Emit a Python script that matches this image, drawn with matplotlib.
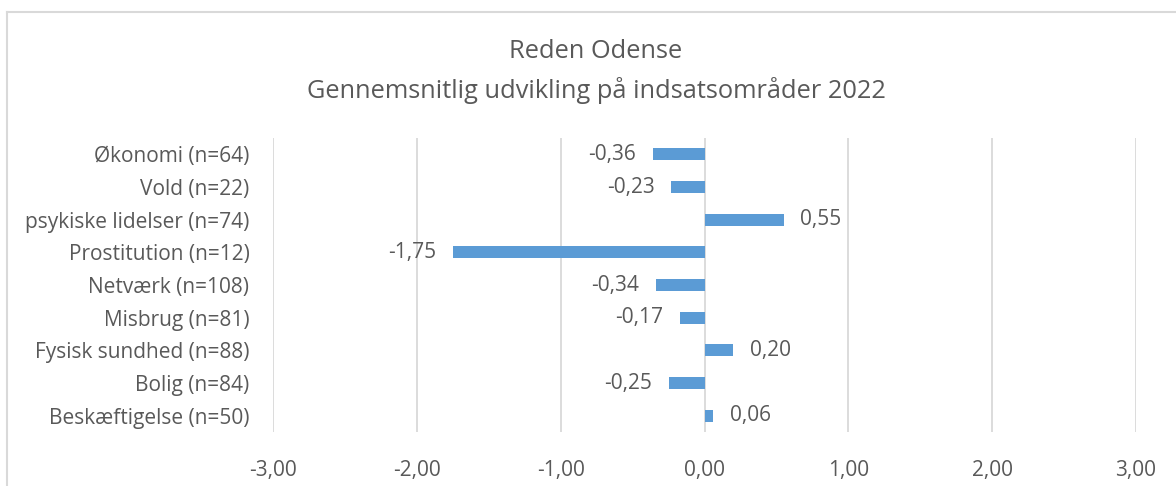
import matplotlib.pyplot as plt
from matplotlib.lines import Line2D

plt.rcParams['font.family'] = ['Open Sans', 'DejaVu Sans']

categories = [
    "Økonomi (n=64)",
    "Vold (n=22)",
    "psykiske lidelser (n=74)",
    "Prostitution (n=12)",
    "Netværk (n=108)",
    "Misbrug (n=81)",
    "Fysisk sundhed (n=88)",
    "Bolig (n=84)",
    "Beskæftigelse (n=50)",
]
values = [-0.36, -0.23, 0.55, -1.75, -0.34, -0.17, 0.20, -0.25, 0.06]
xticks = [-3, -2, -1, 0, 1, 2, 3]

text_col = "#595959"
bar_col = "#5B9BD5"
grid_col = "#D9D9D9"

fig = plt.figure(figsize=(11.76, 4.86), dpi=100)
ax = fig.add_axes([273 / 1176, 1 - 432 / 486, (1136 - 273) / 1176, (432 - 138) / 486])

ypos = list(range(len(categories)))
ax.barh(ypos, values, height=0.37, color=bar_col, zorder=3)

for y, v in zip(ypos, values):
    lab = f"{v:.2f}".replace(".", ",")
    if v < 0:
        ax.annotate(lab, (v, y), xytext=(-12, 0), textcoords="offset points",
                    ha="right", va="center", fontsize=15, color=text_col)
    else:
        ax.annotate(lab, (v, y), xytext=(12, 0), textcoords="offset points",
                    ha="left", va="center", fontsize=15, color=text_col)

ax.set_xlim(-3, 3)
ax.set_ylim(len(categories) - 0.5, -0.5)
ax.set_xticks(xticks)
ax.set_xticklabels([f"{t:.2f}".replace(".", ",") for t in xticks])
ax.set_yticks(ypos)
ax.set_yticklabels(categories)
ax.tick_params(axis="both", length=0, labelsize=15, colors=text_col)
ax.tick_params(axis="x", pad=20)
ax.tick_params(axis="y", pad=17)
ax.xaxis.grid(True, color=grid_col, linewidth=1.3, zorder=0)
for s in ax.spines.values():
    s.set_visible(False)

fig.text(596 / 1176, 1 - 52 / 486, "Reden Odense", ha="center", va="center",
         fontsize=18.3, color=text_col)
fig.text(596 / 1176, 1 - 91 / 486, "Gennemsnitlig udvikling på indsatsområder 2022",
         ha="center", va="center", fontsize=18.3, color=text_col)

# chart border (only top and left visible)
fig.add_artist(Line2D([7 / 1176, 7 / 1176], [0, 1 - 12 / 486], transform=fig.transFigure,
                      color=grid_col, linewidth=1.5))
fig.add_artist(Line2D([7 / 1176, 1], [1 - 12 / 486, 1 - 12 / 486], transform=fig.transFigure,
                      color=grid_col, linewidth=1.5))

fig.savefig("out.png", dpi=100)
